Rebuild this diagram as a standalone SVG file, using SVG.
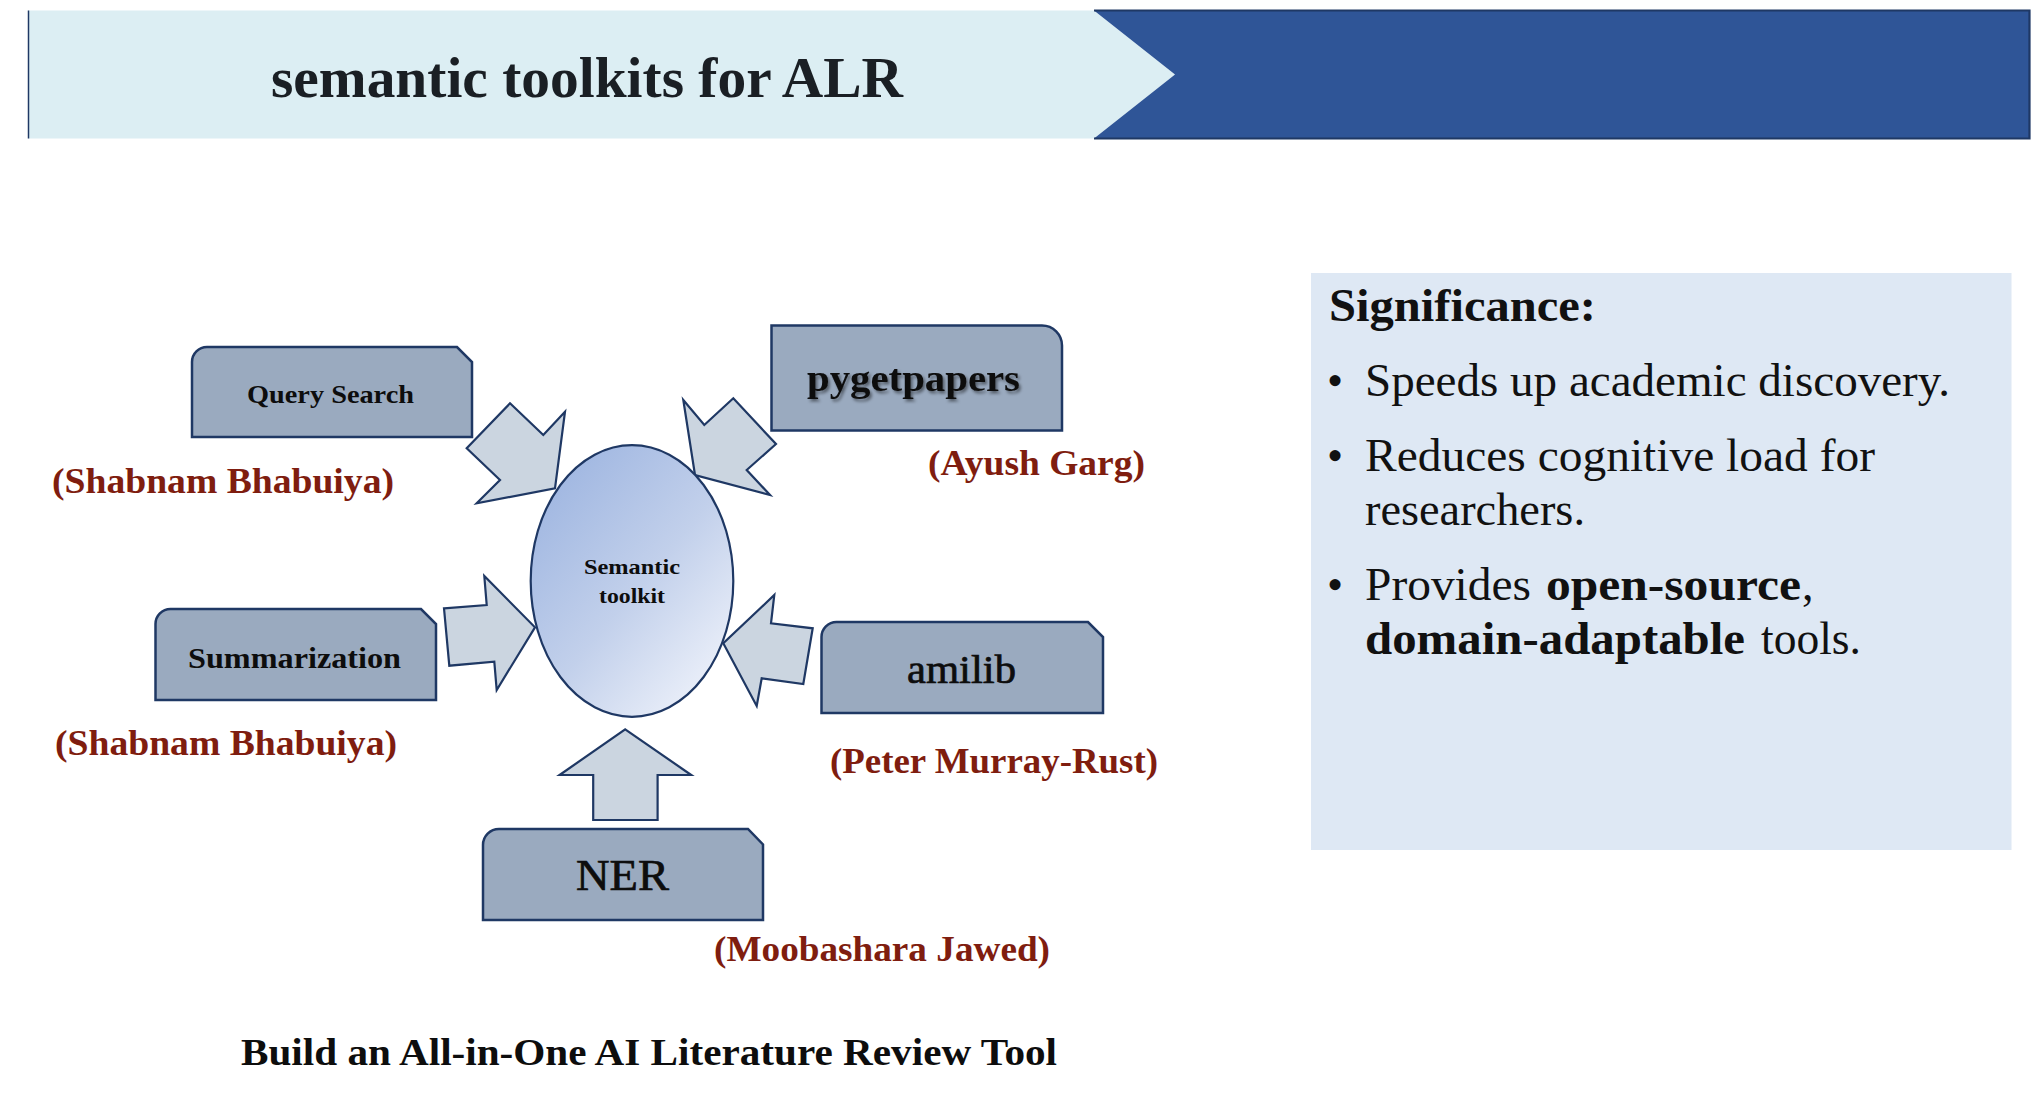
<svg xmlns="http://www.w3.org/2000/svg" width="2031" height="1105" viewBox="0 0 2031 1105">
  <defs>
    <style>
      .box { fill: #9AAABF; stroke: #1F3864; stroke-width: 2.5; }
      .arrow { fill: #CBD5E0; stroke: #1F3864; stroke-width: 2.2; stroke-linejoin: miter; }
      .serif { font-family: "Liberation Serif", "DejaVu Serif", serif; }
      .lbl { font-family: "Liberation Serif", "DejaVu Serif", serif; fill: #0D0D0D; }
      .med { stroke: #0D0D0D; stroke-width: 0.7; }
      .author { font-family: "Liberation Serif", "DejaVu Serif", serif; font-weight: bold; font-size: 36px; fill: #7F1D0F; }
      .body { font-family: "Liberation Serif", "DejaVu Serif", serif; font-size: 46px; fill: #111111; }
    </style>
    <linearGradient id="ellGrad" x1="0.15" y1="0.15" x2="0.85" y2="0.95">
      <stop offset="0" stop-color="#A3B9E2"/>
      <stop offset="0.5" stop-color="#C2D0EB"/>
      <stop offset="1" stop-color="#EDF1FA"/>
    </linearGradient>
    <filter id="shadow" x="-10%" y="-30%" width="120%" height="160%">
      <feDropShadow dx="2" dy="2.5" stdDeviation="1.5" flood-color="#000000" flood-opacity="0.45"/>
    </filter>
  </defs>

  <rect width="2031" height="1105" fill="#FFFFFF"/>

  <!-- Header banner -->
  <g id="header">
    <polygon points="28.5,10.5 1094,10.5 1175,74.5 1094,138.5 28.5,138.5" fill="#DCEEF3"/>
    <line x1="28.5" y1="10.5" x2="28.5" y2="138.5" stroke="#1F3864" stroke-width="1.5"/>
    <path d="M1094,10.5 H2029.5 V138.5 H1094 L1175,74.5 Z" fill="#2F5597"/>
    <path d="M1094,10.5 H2029.5 V138.5 H1094" fill="none" stroke="#1F3864" stroke-width="2.2"/>
    <text class="serif" x="271" y="97" font-size="58" font-weight="bold" fill="#1A1F24" textLength="632" lengthAdjust="spacingAndGlyphs">semantic toolkits for ALR</text>
  </g>

  <!-- Connectors (block arrows) -->
  <g id="connectors">
    <polygon class="arrow" points="510,403.3 543.3,435 565,411.7 555,488.3 476.7,503.3 500,480 466.7,448.3"/>
    <polygon class="arrow" points="683.3,400 704.3,425 733.3,398.3 776,444 746.7,470 770,495 695,475"/>
    <polygon class="arrow" points="444,608.3 486.7,605 484.3,576 535,627.3 496.7,690 494.3,661.7 449.3,665.7"/>
    <polygon class="arrow" points="812.7,628.3 803.3,684 761.7,678.3 756.7,706 723.3,643.3 774.3,595 771,623.3"/>
    <polygon class="arrow" points="625.2,729.3 691.2,775 657.6,775 657.6,820 593.2,820 593.2,775 559.6,775"/>
  </g>

  <!-- Central node -->
  <g id="semantic-toolkit">
    <ellipse cx="632" cy="581" rx="101.3" ry="135.8" fill="url(#ellGrad)" stroke="#1F3864" stroke-width="2.2"/>
    <text class="lbl" x="632" y="574" font-size="22" font-weight="bold" text-anchor="middle" textLength="96" lengthAdjust="spacingAndGlyphs">Semantic</text>
    <text class="lbl" x="632" y="603" font-size="22" font-weight="bold" text-anchor="middle" textLength="66" lengthAdjust="spacingAndGlyphs">toolkit</text>
  </g>

  <g id="query-search">
    <path class="box" d="M192,437 V362 A15,15 0 0 1 207,347 H457 L472,362 V437 Z"/>
    <text class="lbl" x="247" y="403" font-size="26" font-weight="bold" textLength="167" lengthAdjust="spacingAndGlyphs">Query Search</text>
    <text class="author" x="52" y="493" textLength="342" lengthAdjust="spacingAndGlyphs">(Shabnam Bhabuiya)</text>
  </g>

  <g id="summarization">
    <path class="box" d="M155.5,700 V624 A15,15 0 0 1 170.5,609 H421 L436,624 V700 Z"/>
    <text class="lbl" x="188" y="668" font-size="30" font-weight="bold" textLength="213" lengthAdjust="spacingAndGlyphs">Summarization</text>
    <text class="author" x="55" y="755" textLength="342" lengthAdjust="spacingAndGlyphs">(Shabnam Bhabuiya)</text>
  </g>

  <g id="pygetpapers">
    <path class="box" d="M771.5,325.5 H1042 A20,20 0 0 1 1062,345.5 V430.5 H771.5 Z"/>
    <text class="lbl" x="807" y="391" font-size="38" font-weight="bold" filter="url(#shadow)" textLength="213" lengthAdjust="spacingAndGlyphs">pygetpapers</text>
    <text class="author" x="928" y="475" textLength="217" lengthAdjust="spacingAndGlyphs">(Ayush Garg)</text>
  </g>

  <g id="amilib">
    <path class="box" d="M821.5,713 V637 A15,15 0 0 1 836.5,622 H1088 L1103,637 V713 Z"/>
    <text class="lbl med" x="907" y="683" font-size="40" textLength="109" lengthAdjust="spacingAndGlyphs">amilib</text>
    <text class="author" x="830" y="773" textLength="328" lengthAdjust="spacingAndGlyphs">(Peter Murray-Rust)</text>
  </g>

  <g id="ner">
    <path class="box" d="M483,920 V845 A16,16 0 0 1 499,829 H748 L763,844.5 V920 Z"/>
    <text class="lbl med" x="576" y="890" font-size="44" textLength="93" lengthAdjust="spacingAndGlyphs">NER</text>
    <text class="author" x="714" y="961" textLength="336" lengthAdjust="spacingAndGlyphs">(Moobashara Jawed)</text>
  </g>

  <!-- Significance panel -->
  <g id="significance">
    <rect x="1311" y="273" width="700.5" height="577" fill="#DEE8F4"/>
    <text class="body" x="1329" y="321" font-weight="bold" textLength="267" lengthAdjust="spacingAndGlyphs">Significance:</text>
    <text class="body" x="1327" y="396">•</text>
    <text class="body" x="1365" y="396" textLength="585" lengthAdjust="spacingAndGlyphs">Speeds up academic discovery.</text>
    <text class="body" x="1327" y="471">•</text>
    <text class="body" x="1365" y="471" textLength="510" lengthAdjust="spacingAndGlyphs">Reduces cognitive load for</text>
    <text class="body" x="1365" y="525" textLength="220" lengthAdjust="spacingAndGlyphs">researchers.</text>
    <text class="body" x="1327" y="600">•</text>
    <text class="body" x="1365" y="600" textLength="166" lengthAdjust="spacingAndGlyphs">Provides</text>
    <text class="body" x="1546" y="600" font-weight="bold" textLength="255" lengthAdjust="spacingAndGlyphs">open-source</text>
    <text class="body" x="1802" y="600">,</text>
    <text class="body" x="1365" y="654" font-weight="bold" textLength="380" lengthAdjust="spacingAndGlyphs">domain-adaptable</text>
    <text class="body" x="1761" y="654" textLength="100" lengthAdjust="spacingAndGlyphs">tools.</text>
  </g>

  <!-- Footer caption -->
  <g id="caption">
    <text class="lbl" x="241" y="1065" font-size="38" font-weight="bold" textLength="816" lengthAdjust="spacingAndGlyphs">Build an All-in-One AI Literature Review Tool</text>
  </g>
</svg>
